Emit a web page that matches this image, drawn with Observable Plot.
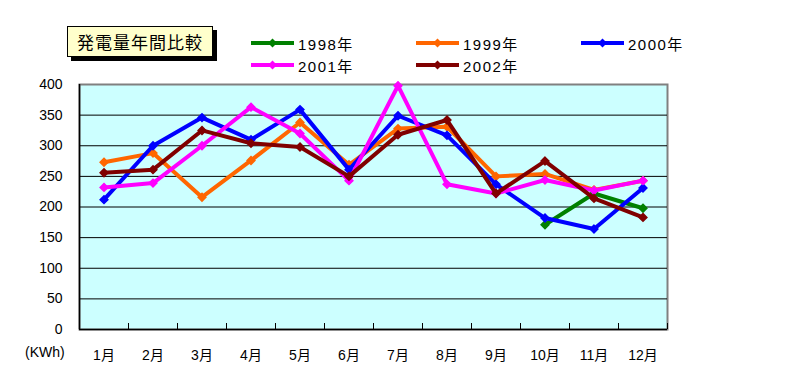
<!DOCTYPE html>
<html><head><meta charset="utf-8">
<script src="https://cdn.jsdelivr.net/npm/d3@7"></script>
<script src="https://cdn.jsdelivr.net/npm/@observablehq/plot@0.6"></script>
<style>
body{margin:0;background:#fff;font-family:"MS PGothic","Noto Sans CJK JP","Liberation Sans",sans-serif;}
#wrap{position:relative;width:791px;height:374px;overflow:hidden;}
#chart{position:absolute;left:0;top:0;}
#title{position:absolute;left:67px;top:26px;width:144px;height:29px;background:#FFFFCC;border:1px solid #000;box-shadow:4px 4px 0 #000;font-size:17px;line-height:29px;text-align:center;letter-spacing:1px;}
.leg{position:absolute;height:16px;display:flex;align-items:center;font-family:"Liberation Sans","Noto Sans CJK JP",sans-serif;font-size:15px;letter-spacing:1.5px;}
.leg svg{margin-right:4px;}
#unit{position:absolute;left:25px;top:344px;font-family:"Liberation Sans","Noto Sans CJK JP",sans-serif;font-size:14px;}
</style></head><body>
<div id="wrap"><div id="chart"></div><div id="title">発電量年間比較</div><div id="unit">(KWh)</div></div>
<script>
const months = ["1月","2月","3月","4月","5月","6月","7月","8月","9月","10月","11月","12月"];
const years = ["1998年","1999年","2000年","2001年","2002年"];
const colors = ["#008000","#FF6600","#0000FF","#FF00FF","#800000"];
const y1998 = [null,null,null,null,null,null,null,null,null,171,222,198];
const y1999 = [273,288,216,276,338,269,328,331,250,254,228,243];
const y2000 = [212,300,346,310,359,261,349,317,237,182,164,231];
const y2001 = [232,239,300,363,320,243,398,237,222,244,227,243];
const y2002 = [256,261,325,304,298,250,318,342,222,275,214,183];
const yTicks = [0,50,100,150,200,250,300,350,400];
const legendPos = [[251,35],[416,35],[581,35],[251,57],[416,57]];

const series = [y1998,y1999,y2000,y2001,y2002];
const rows = [];
series.forEach((vals, s) => vals.forEach((v, i) => { if (v != null) rows.push({year: years[s], m: i + 1, v}); }));
const bounds = months.map((_, i) => i + 1.5);

const marks = [
  Plot.frame({fill:"#CCFFFF", stroke:"#808080", strokeWidth:2}),
  Plot.ruleY(yTicks.slice(1, -1), {stroke:"#000", strokeWidth:1}),
  Plot.ruleX(bounds, {x: d => d, stroke:"#000", strokeWidth:1, insetTop:239}),
  Plot.ruleY([0], {stroke:"#000", strokeWidth:1.5}),
  Plot.ruleX([0.5], {stroke:"#000", strokeWidth:1.5}),
  Plot.axisY({ticks: yTicks, tickSize:0, tickPadding:17, fontSize:14, label:null}),
  Plot.axisX({ticks: months.map((_, i) => i + 1), tickFormat: d => months[d - 1], tickSize:0, tickPadding:21, fontSize:14, label:null})
];
years.forEach((yr, s) => {
  const d = rows.filter(r => r.year === yr);
  marks.push(Plot.line(d, {x:"m", y:"v", stroke: colors[s], strokeWidth:4, strokeLinejoin:"miter"}));
  marks.push(Plot.dot(d, {x:"m", y:"v", fill: colors[s], stroke: colors[s], symbol:"diamond2", r:3.5}));
});

const chart = Plot.plot({
  width:791, height:374,
  marginLeft:79, marginRight:124, marginTop:84, marginBottom:45,
  style:{fontFamily:'"Liberation Sans","Noto Sans CJK JP",sans-serif', fontSize:"14px", background:"transparent", color:"#000"},
  x:{type:"linear", domain:[0.5, 12.5], axis:null, label:null},
  y:{domain:[0, 400], axis:null, label:null},
  marks
});
document.getElementById("chart").appendChild(chart);

const wrap = document.getElementById("wrap");
years.forEach((yr, s) => {
  const div = document.createElement("div");
  div.className = "leg";
  div.style.left = legendPos[s][0] + "px";
  div.style.top = legendPos[s][1] + "px";
  div.innerHTML = `<svg width="43" height="12"><line x1="0" y1="6" x2="43" y2="6" stroke="${colors[s]}" stroke-width="4"/><path d="M21.5,1.5 L26,6 L21.5,10.5 L17,6 Z" fill="${colors[s]}"/></svg><span>${yr}</span>`;
  wrap.appendChild(div);
});
</script>
</body></html>
